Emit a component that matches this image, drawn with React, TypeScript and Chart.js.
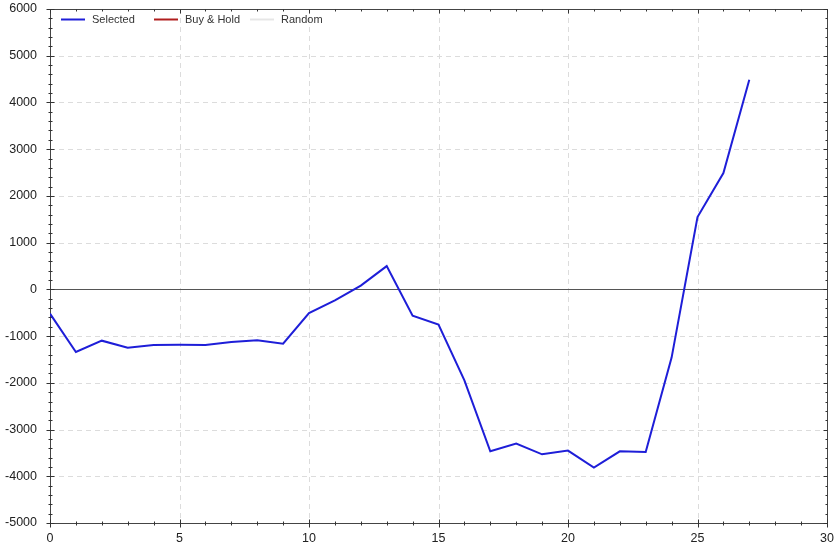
import React, { useEffect, useRef } from "react";
import { Chart, registerables } from "chart.js";

Chart.register(...registerables);

const xValues = [0, 1, 2, 3, 4, 5, 6, 7, 8, 9, 10, 11, 12, 13, 14, 15, 16, 17, 18, 19, 20, 21, 22, 23, 24, 25, 26, 27];
const selectedValues = [-520, -1341, -1098, -1247, -1192, -1187, -1192, -1128, -1091, -1162, -507, -235, 80, 498, -563, -755, -1947, -3466, -3301, -3530, -3451, -3815, -3466, -3480, -1461, 1547, 2488, 4487];
const buyHoldValues: number[] = [];
const randomValues: number[] = [];
const seriesNames = ["Selected", "Buy & Hold", "Random"];
const seriesColors = ["#1e1ed8", "#b01e1e", "#e6e6e6"];
const xMin = 0, xMax = 30, xMajor = 5, xMinor = 1;
const yMin = -5000, yMax = 6000, yMajor = 1000, yMinor = 200;

const FONT = "'Liberation Sans', Arial, sans-serif";

const framePlugin = {
  id: "frame",
  beforeDatasetsDraw(chart: any) {
    const { ctx, chartArea: a, scales } = chart;
    const xs = scales.x, ys = scales.y;
    ctx.save();
    ctx.strokeStyle = "#dcdcdc";
    ctx.lineWidth = 1;
    ctx.setLineDash([5, 4]);
    for (let v = xMin + xMajor; v < xMax; v += xMajor) {
      const px = Math.round(xs.getPixelForValue(v)) + 0.5;
      ctx.beginPath(); ctx.moveTo(px, a.top); ctx.lineTo(px, a.bottom); ctx.stroke();
    }
    for (let v = yMin + yMajor; v < yMax; v += yMajor) {
      if (v === 0) continue;
      const py = Math.round(ys.getPixelForValue(v)) + 0.5;
      ctx.beginPath(); ctx.moveTo(a.left, py); ctx.lineTo(a.right, py); ctx.stroke();
    }
    ctx.setLineDash([]);
    ctx.strokeStyle = "#555";
    const zy = Math.round(ys.getPixelForValue(0)) + 0.5;
    ctx.beginPath(); ctx.moveTo(a.left, zy); ctx.lineTo(a.right, zy); ctx.stroke();
    ctx.strokeStyle = "#444";
    const L = Math.round(a.left) + 0.5, R = Math.round(a.right) + 0.5, T = Math.round(a.top) + 0.5, B = Math.round(a.bottom) + 0.5;
    ctx.strokeRect(L, T, R - L, B - T);
    ctx.strokeStyle = "#333";
    for (let v = xMin; v <= xMax + 1e-9; v += xMinor) {
      const major = Math.abs(v / xMajor - Math.round(v / xMajor)) < 1e-9;
      const len = major ? 4 : 2;
      const px = Math.round(xs.getPixelForValue(v)) + 0.5;
      ctx.beginPath(); ctx.moveTo(px, B - len); ctx.lineTo(px, B + len); ctx.stroke();
      ctx.beginPath(); ctx.moveTo(px, T); ctx.lineTo(px, T + len); ctx.stroke();
    }
    for (let v = yMin; v <= yMax + 1e-9; v += yMinor) {
      const major = Math.abs(v / yMajor - Math.round(v / yMajor)) < 1e-9;
      const len = major ? 4 : 2;
      const py = Math.round(ys.getPixelForValue(v)) + 0.5;
      ctx.beginPath(); ctx.moveTo(L - len, py); ctx.lineTo(L + len, py); ctx.stroke();
      ctx.beginPath(); ctx.moveTo(R - len, py); ctx.lineTo(R, py); ctx.stroke();
    }
    ctx.restore();
  },
  afterDraw(chart: any) {
    const { ctx, chartArea: a } = chart;
    const offsets = [11, 104, 200];
    const y = a.top + 10.5;
    ctx.save();
    ctx.font = `11px ${FONT}`;
    ctx.textBaseline = "middle";
    ctx.textAlign = "left";
    chart.data.datasets.forEach((ds: any, i: number) => {
      const x0 = a.left + offsets[i];
      ctx.strokeStyle = ds.borderColor;
      ctx.lineWidth = 2;
      ctx.beginPath(); ctx.moveTo(x0, y); ctx.lineTo(x0 + 24, y); ctx.stroke();
      ctx.fillStyle = "#333";
      ctx.fillText(ds.label, x0 + 31, y);
    });
    ctx.restore();
  },
};

export default function App() {
  const ref = useRef<HTMLCanvasElement>(null);
  useEffect(() => {
    if (!ref.current) return;
    const mk = (vals: number[]) => vals.map((v, i) => ({ x: xValues[i], y: v }));
    const chart = new Chart(ref.current, {
      type: "line",
      data: {
        datasets: [
          { label: seriesNames[0], data: mk(selectedValues), borderColor: seriesColors[0], borderWidth: 2, pointRadius: 0, tension: 0, fill: false },
          { label: seriesNames[1], data: mk(buyHoldValues), borderColor: seriesColors[1], borderWidth: 2, pointRadius: 0, fill: false },
          { label: seriesNames[2], data: mk(randomValues), borderColor: seriesColors[2], borderWidth: 2, pointRadius: 0, fill: false },
        ],
      },
      options: {
        animation: false,
        responsive: true,
        maintainAspectRatio: false,
        layout: { padding: { top: 9, right: 12, left: 0, bottom: 0 } },
        plugins: { legend: { display: false }, tooltip: { enabled: false } },
        scales: {
          x: {
            type: "linear",
            min: xMin,
            max: xMax,
            grid: { drawOnChartArea: false, drawTicks: false, color: "transparent" },
            border: { display: false },
            ticks: { stepSize: xMajor, padding: 8, color: "#222", font: { family: FONT, size: 12.5 }, maxRotation: 0, callback: (v: any) => String(v) },
            afterFit: (s: any) => { s.height = 23; s.paddingLeft = 0; s.paddingRight = 0; },
          },
          y: {
            type: "linear",
            min: yMin,
            max: yMax,
            grid: { drawOnChartArea: false, drawTicks: false, color: "transparent" },
            border: { display: false },
            ticks: { stepSize: yMajor, padding: 13, color: "#222", font: { family: FONT, size: 12.5 }, autoSkip: false, callback: (v: any) => String(v) },
            afterFit: (s: any) => { s.width = 50; s.paddingTop = 0; s.paddingBottom = 0; },
          },
        },
      },
      plugins: [framePlugin],
    } as any);
    return () => chart.destroy();
  }, []);
  return (
    <div style={{ position: "fixed", left: 0, top: 0, width: 839, height: 546, background: "#fff" }}>
      <canvas ref={ref} />
    </div>
  );
}
